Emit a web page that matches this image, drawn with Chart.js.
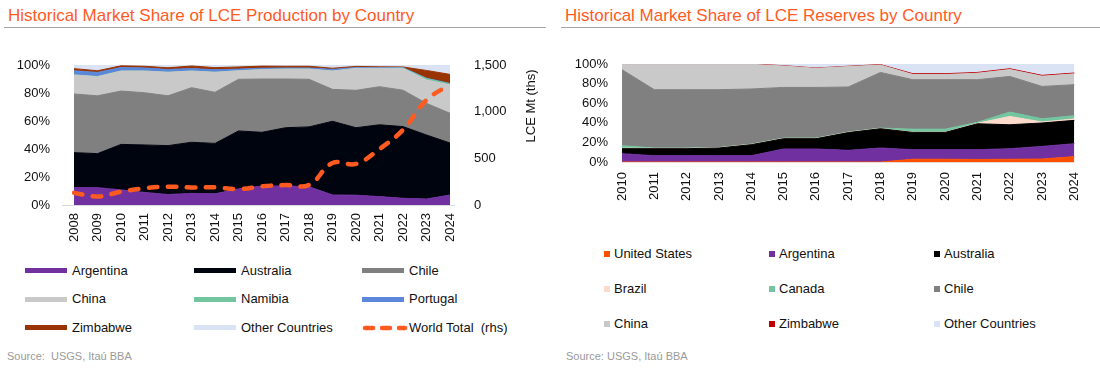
<!DOCTYPE html>
<html>
<head>
<meta charset="utf-8">
<script src="https://cdn.jsdelivr.net/npm/chart.js@4.4.1/dist/chart.umd.min.js"></script>
<style>
  body { margin: 0; width: 1100px; height: 371px; background: #fff; position: relative; overflow: hidden;
         font-family: 'Liberation Sans', Arial, sans-serif; }
  .title { position: absolute; top: 6px; font-size: 17px; line-height: 20px; color: #FF5A1F; white-space: nowrap; }
  .rule { position: absolute; top: 27px; height: 0; border-top: 1.5px solid #A6A6A6; }
  .src { position: absolute; top: 350px; font-size: 11px; line-height: 13px; color: #9A9A9A; white-space: pre; }
  .leg { position: absolute; font-size: 13px; line-height: 16px; color: #111; white-space: pre; }
  .swatch { position: absolute; }
  canvas { position: absolute; }
  #rhsTitle { position: absolute; font-size: 13px; line-height: 16px; color: #111; white-space: pre;
              transform: translate(-50%, -50%) rotate(-90deg); left: 531px; top: 106px; }
</style>
</head>
<body>
<div class="title" style="left:8px">Historical Market Share of LCE Production by Country</div>
<div class="rule" style="left:4px; width:542px"></div>
<div class="title" style="left:565px">Historical Market Share of LCE Reserves by Country</div>
<div class="rule" style="left:561px; width:539px"></div>

<canvas id="prodChart" width="550" height="215" style="left:0; top:40px"></canvas>
<div id="rhsTitle">LCE Mt (ths)</div>
<canvas id="resChart" width="545" height="167" style="left:555px; top:40px"></canvas>

<div id="prodLegend"></div>
<div id="resLegend"></div>

<div class="src" style="left:7px">Source:  USGS, Itaú BBA</div>
<div class="src" style="left:566px">Source: USGS, Itaú BBA</div>

<script>
// --- Datos: producción (participación %, apilado) ---
const prodYears = ['2008', '2009', '2010', '2011', '2012', '2013', '2014', '2015', '2016',
                   '2017', '2018', '2019', '2020', '2021', '2022', '2023', '2024'];
const prodArgentina = [12.5, 12.4, 10.8, 9.0, 7.5, 8.3, 8.0, 11.5, 13.5, 13.6, 13.0, 7.2, 7.0, 6.0, 4.8, 4.3, 7.1];
const prodAustralia = [24.9, 24.3, 32.5, 33.9, 34.9, 36.5, 36.0, 41.4, 38.4, 41.6, 42.8, 52.6, 48.2, 51.3, 51.2, 45.7, 37.2];
const prodChile     = [41.9, 41.3, 38.1, 37.3, 35.6, 39.0, 36.5, 36.9, 38.1, 34.8, 34.0, 22.8, 26.7, 27.2, 26.0, 22.6, 21.2];
const prodChina     = [13.6, 13.7, 14.3, 15.5, 16.8, 11.9, 14.3, 6.1, 6.7, 7.1, 7.3, 13.1, 15.7, 13.1, 15.6, 16.7, 20.2];
const prodNamibia   = [0, 0, 0, 0, 0, 0, 0, 0, 0, 0, 0, 0, 0, 0, 0.2, 1.0, 0.8];
const prodPortugal  = [3.0, 3.0, 2.5, 2.2, 2.0, 1.8, 1.8, 1.2, 1.0, 0.8, 0.8, 1.2, 0.6, 0.5, 0.4, 0.3, 0.3];
const prodZimbabwe  = [1.5, 1.2, 1.2, 1.2, 1.2, 1.8, 1.5, 1.5, 1.5, 1.2, 1.2, 0.8, 0.8, 0.6, 0.4, 5.5, 6.5];
const prodOther     = [2.6, 4.1, 0.6, 0.9, 2.0, 0.7, 1.9, 1.4, 0.8, 0.9, 0.9, 2.3, 1.0, 1.3, 1.4, 3.9, 6.7];
const worldTotal    = [130, 92, 142, 180, 196, 188, 190, 170, 200, 214, 214, 450, 440, 600, 805, 1125, 1290];

// --- Datos: reservas (participación %, apilado) ---
const resYears = ['2010', '2011', '2012', '2013', '2014', '2015', '2016', '2017',
                  '2018', '2019', '2020', '2021', '2022', '2023', '2024'];
const resUnitedStates = [0, 0, 0, 0, 0, 0, 0, 0, 0, 2.8, 2.8, 2.6, 2.8, 3.0, 5.5];
const resArgentina    = [8.5, 6.4, 6.4, 6.4, 6.4, 13.3, 13.3, 11.9, 14.3, 9.8, 9.8, 10.0, 10.8, 12.9, 13.2];
const resAustralia    = [5.1, 7.2, 7.2, 7.9, 11.3, 10.5, 10.5, 18.1, 19.7, 17.6, 17.6, 26.4, 24.4, 23.9, 23.8];
const resBrazil       = [0.5, 0.3, 0.3, 0.3, 0.3, 0.3, 0.3, 0.3, 0.3, 0.3, 0.3, 0.5, 8.5, 1.0, 1.5];
const resCanada       = [2.5, 0.3, 0.3, 0.3, 0.3, 0.3, 0.3, 0.3, 0.3, 3.0, 3.0, 1.0, 4.4, 3.3, 3.3];
const resChile        = [77.6, 59.6, 59.6, 58.9, 56.2, 51.7, 51.7, 45.9, 56.8, 50.5, 50.5, 43.5, 36.4, 33.0, 31.6];
const resChina        = [5.5, 25.9, 25.9, 25.9, 25.2, 21.9, 19.5, 20.9, 7.6, 5.3, 5.3, 6.6, 7.1, 10.5, 11.1];
const resZimbabwe     = [0.3, 0.3, 0.3, 0.3, 0.3, 0.3, 0.3, 0.3, 0.4, 0.8, 0.8, 0.8, 0.8, 0.8, 0.8];
const resOther        = [0, 0, 0, 0, 0, 1.7, 4.1, 2.3, 0.6, 9.9, 9.9, 8.6, 4.8, 11.6, 9.2];

// --- Etiquetas de ejes ---
const pctTicks = [0, 20, 40, 60, 80, 100];
const totalTicks = [0, 500, 1000, 1500];

const ORANGE = '#FF5A1F';
const FONT = { family: "'Liberation Sans', Arial, sans-serif", size: 13 };
const TICK_COLOR = '#111';

function area(label, data, color, idx) {
    return {
        label: label, data: data, yAxisID: 'y',
        backgroundColor: color, borderColor: color, borderWidth: 1,
        pointRadius: 0, tension: 0, fill: idx === 0 ? 'origin' : '-1'
    };
}

function xScale(height, pad) {
    return {
        type: 'category', offset: false,
        grid: { display: false, drawTicks: false },
        border: { display: true, color: '#D9D9D9', width: 1 },
        ticks: { color: TICK_COLOR, font: FONT, autoSkip: false, maxRotation: 90, minRotation: 90, padding: pad },
        afterFit: s => { s.height = height; }
    };
}

// ancho fijo del eje; el padding de las etiquetas no debe empujar el área hacia abajo
function fixAxis(width) {
    return s => { s.width = width; s.paddingTop = 8; s.paddingBottom = 8; };
}

function pctScale(width, pad) {
    return {
        stacked: true, min: 0, max: 100,
        grid: { display: false, drawTicks: false },
        border: { display: false },
        afterBuildTicks: s => { s.ticks = pctTicks.map(v => ({ value: v })); },
        ticks: { color: TICK_COLOR, font: FONT, padding: pad, callback: v => v + '%' },
        afterFit: fixAxis(width)
    };
}

// Línea gris del eje X un poco más ancha que el área (como en Excel)
const axisLine = {
    id: 'axisLine',
    beforeDatasetsDraw(chart, args, opts) {
        const a = chart.chartArea, c = chart.ctx;
        c.save();
        c.strokeStyle = opts.color;
        c.lineWidth = 1;
        c.beginPath();
        c.moveTo(a.left - opts.extL, a.bottom + 0.5);
        c.lineTo(a.right + opts.extR, a.bottom + 0.5);
        c.stroke();
        c.restore();
    }
};

// --- Gráfica de producción ---
const prodNames  = ['Argentina', 'Australia', 'Chile', 'China', 'Namibia', 'Portugal', 'Zimbabwe', 'Other Countries'];
const prodData   = [prodArgentina, prodAustralia, prodChile, prodChina, prodNamibia, prodPortugal, prodZimbabwe, prodOther];
const prodColors = ['#7030A0', '#00040F', '#808080', '#C9C9C9', '#72C59E', '#5B87DA', '#993300', '#DAE3F3'];

const prodSets = prodNames.map((n, i) => area(n, prodData[i], prodColors[i], i));
prodSets.push({
    label: 'World Total  (rhs)', data: worldTotal, yAxisID: 'y1', order: -1,
    borderColor: ORANGE, borderWidth: 4.5, borderDash: [8.5, 10.5], borderCapStyle: 'round',
    fill: false, pointRadius: 0, tension: 0.4
});

new Chart(document.getElementById('prodChart'), {
    type: 'line',
    data: { labels: prodYears, datasets: prodSets },
    plugins: [axisLine],
    options: {
        responsive: false, animation: false, devicePixelRatio: 1,
        layout: { padding: { top: 25, left: 0, right: 0, bottom: 0 } },
        plugins: { legend: { display: false }, tooltip: { enabled: false },
                   axisLine: { color: '#D9D9D9', extL: 12, extR: 5 } },
        scales: {
            x: Object.assign(xScale(50, 8), { border: { display: false } }),
            y: pctScale(74, 24),
            y1: {
                position: 'right', min: 0, max: 1500,
                grid: { display: false, drawTicks: false },
                border: { display: false },
                afterBuildTicks: s => { s.ticks = totalTicks.map(v => ({ value: v })); },
                ticks: { color: TICK_COLOR, font: FONT, padding: 24, callback: v => v.toLocaleString('en-US') },
                afterFit: fixAxis(100)
            }
        }
    }
});

// --- Gráfica de reservas ---
const resNames  = ['United States', 'Argentina', 'Australia', 'Brazil', 'Canada', 'Chile', 'China', 'Zimbabwe', 'Other Countries'];
const resData   = [resUnitedStates, resArgentina, resAustralia, resBrazil, resCanada, resChile, resChina, resZimbabwe, resOther];
const resColors = ['#FF5000', '#7030A0', '#000000', '#FCDACC', '#72C59E', '#808080', '#C9C9C9', '#C00000', '#DAE3F3'];

new Chart(document.getElementById('resChart'), {
    type: 'line',
    data: { labels: resYears, datasets: resNames.map((n, i) => area(n, resData[i], resColors[i], i)) },
    options: {
        responsive: false, animation: false, devicePixelRatio: 1,
        layout: { padding: { top: 24, left: 0, right: 25, bottom: 0 } },
        plugins: { legend: { display: false }, tooltip: { enabled: false } },
        scales: {
            x: Object.assign(xScale(45, 10), { border: { display: true, color: '#EBDADA', width: 1 } }),
            y: pctScale(67, 14)
        }
    }
});

// --- Leyendas (HTML, 3 columnas) ---
function addLegendItem(box, x, y, label, swatchHtml) {
    box.insertAdjacentHTML('beforeend', swatchHtml +
        '<div class="leg" style="left:' + x + 'px; top:' + (y - 8) + 'px">' + label + '</div>');
}

const prodLegend = document.getElementById('prodLegend');
const pCols = [25, 194, 362], pRows = [270.5, 299, 327.5];
const prodLegendNames = prodNames.concat(['World Total  (rhs)']);
prodLegendNames.forEach((n, i) => {
    const cx = pCols[i % 3], cy = pRows[Math.floor(i / 3)];
    let sw;
    if (i < prodNames.length) {
        sw = '<div class="swatch" style="left:' + cx + 'px; top:' + (cy - 2.5) + 'px; width:42px; height:5px; background:' + prodColors[i] + '"></div>';
    } else {
        sw = '<svg class="swatch" style="left:' + cx + 'px; top:' + (cy - 4) + 'px" width="46" height="8">' +
             '<line x1="3" y1="4" x2="43" y2="4" stroke="' + ORANGE + '" stroke-width="4.5" stroke-linecap="round" stroke-dasharray="8 9"/></svg>';
    }
    addLegendItem(prodLegend, cx + 47, cy, n, sw);
});

const resLegend = document.getElementById('resLegend');
const rCols = [604, 769, 934], rRows = [253.5, 288.5, 323.5];
resNames.forEach((n, i) => {
    const cx = rCols[i % 3], cy = rRows[Math.floor(i / 3)];
    const sw = '<div class="swatch" style="left:' + cx + 'px; top:' + (cy - 3) + 'px; width:6px; height:6px; background:' + resColors[i] + '"></div>';
    addLegendItem(resLegend, cx + 10, cy, n, sw);
});
</script>
</body>
</html>
